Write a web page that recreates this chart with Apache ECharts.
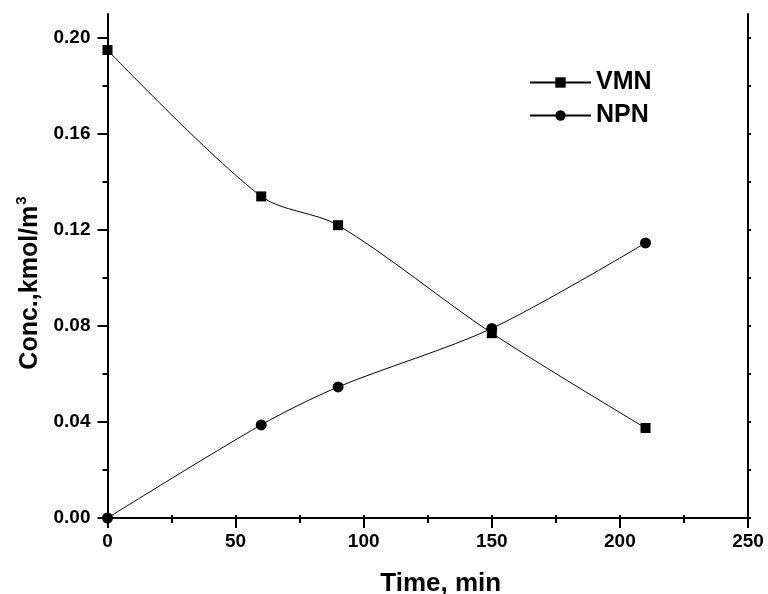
<!DOCTYPE html>
<html><head><meta charset="utf-8">
<script src="https://cdn.jsdelivr.net/npm/echarts@6/dist/echarts.min.js"></script>
<style>html,body{margin:0;padding:0;background:#fff}#c{width:768px;height:594px}</style>
</head><body><div id="c"></div>
<script>
const timeMin = [0, 60, 90, 150, 210];
const vmn = [0.195, 0.134, 0.122, 0.077, 0.0375];
const npn = [0.0, 0.0388, 0.0546, 0.079, 0.1146];
const yMajorTicks = [0, 0.04, 0.08, 0.12, 0.16, 0.20];
const yMinorTicks = [0.02, 0.06, 0.10, 0.14, 0.18];
const seriesNames = ['VMN', 'NPN'];

const FONT = '"Liberation Sans", Arial, sans-serif';
const BLK = '#000';
const chart = echarts.init(document.getElementById('c'));
const line2 = {show: true, lineStyle: {color: BLK, width: 2}};
const tickStyle = {color: BLK, width: 2};
const labelStyle = {color: BLK, fontFamily: FONT, fontWeight: 'bold', fontSize: 19};

function pairs(xs, ys) { return xs.map((x, i) => [x, ys[i]]); }

const option = {
  animation: false,
  backgroundColor: '#fff',
  grid: {left: 107.5, right: 20, top: 14, bottom: 76, containLabel: false, outerBoundsMode: 'none'},
  legend: {
    data: seriesNames,
    orient: 'vertical',
    left: 529, top: 70,
    padding: 0,
    itemWidth: 61, itemHeight: 13, itemGap: 8,
    textStyle: {color: BLK, fontFamily: FONT, fontWeight: 'bold', fontSize: 25}
  },
  xAxis: [
    {
      type: 'value', min: 0, max: 250, interval: 50, position: 'bottom',
      name: 'Time, min', nameLocation: 'middle', nameGap: 53,
      nameTextStyle: {color: BLK, fontFamily: FONT, fontWeight: 'bold', fontSize: 26, padding: [0, 0, 0, 26]},
      axisLine: line2,
      axisTick: {show: true, inside: false, length: 10, lineStyle: tickStyle},
      minorTick: {show: true, splitNumber: 2, length: 5, lineStyle: tickStyle},
      axisLabel: Object.assign({margin: 14}, labelStyle),
      splitLine: {show: false}, minorSplitLine: {show: false}
    },
    {
      type: 'value', min: 0, max: 250, interval: 50, position: 'top',
      axisLine: line2,
      axisTick: {show: true, length: 3, lineStyle: tickStyle},
      minorTick: {show: true, splitNumber: 2, length: 3, lineStyle: tickStyle},
      axisLabel: {show: false},
      splitLine: {show: false}
    }
  ],
  yAxis: [
    {
      type: 'value', min: 0, max: 0.21, position: 'left',
      name: 'Conc.,kmol/m{sup|3}', nameLocation: 'middle', nameGap: 62, nameRotate: 90,
      nameTextStyle: {color: BLK, fontFamily: FONT, fontWeight: 'bold', fontSize: 25, padding: [0, 34, 0, 0],
        rich: {sup: {fontSize: 15, fontFamily: FONT, fontWeight: 'bold', color: BLK, verticalAlign: 'top', padding: [0, 0, 16, 1]}}},
      axisLine: line2,
      axisTick: {show: true, length: 10, lineStyle: tickStyle, customValues: yMajorTicks},
      axisLabel: Object.assign({margin: 17, customValues: yMajorTicks, formatter: v => v.toFixed(2)}, labelStyle),
      splitLine: {show: false}
    },
    {
      type: 'value', min: 0, max: 0.21, position: 'left',
      axisLine: {show: false},
      axisTick: {show: true, length: 5, lineStyle: tickStyle, customValues: yMinorTicks},
      axisLabel: {show: false},
      splitLine: {show: false}
    },
    {
      type: 'value', min: 0, max: 0.21, position: 'right',
      axisLine: line2,
      axisTick: {show: true, length: 3, lineStyle: tickStyle, customValues: yMajorTicks.concat(yMinorTicks)},
      axisLabel: {show: false},
      splitLine: {show: false}
    }
  ],
  series: [
    {
      name: seriesNames[0], type: 'line', xAxisIndex: 0, yAxisIndex: 0,
      data: pairs(timeMin, vmn), smooth: 0.3,
      symbol: 'rect', symbolSize: 10, clip: false,
      lineStyle: {color: BLK, width: 1}, itemStyle: {color: BLK}
    },
    {
      name: seriesNames[1], type: 'line', xAxisIndex: 0, yAxisIndex: 0,
      data: pairs(timeMin, npn), smooth: 0.3,
      symbol: 'circle', symbolSize: 11, clip: false,
      lineStyle: {color: BLK, width: 1}, itemStyle: {color: BLK}
    }
  ]
};
chart.setOption(option);
</script>
</body></html>
